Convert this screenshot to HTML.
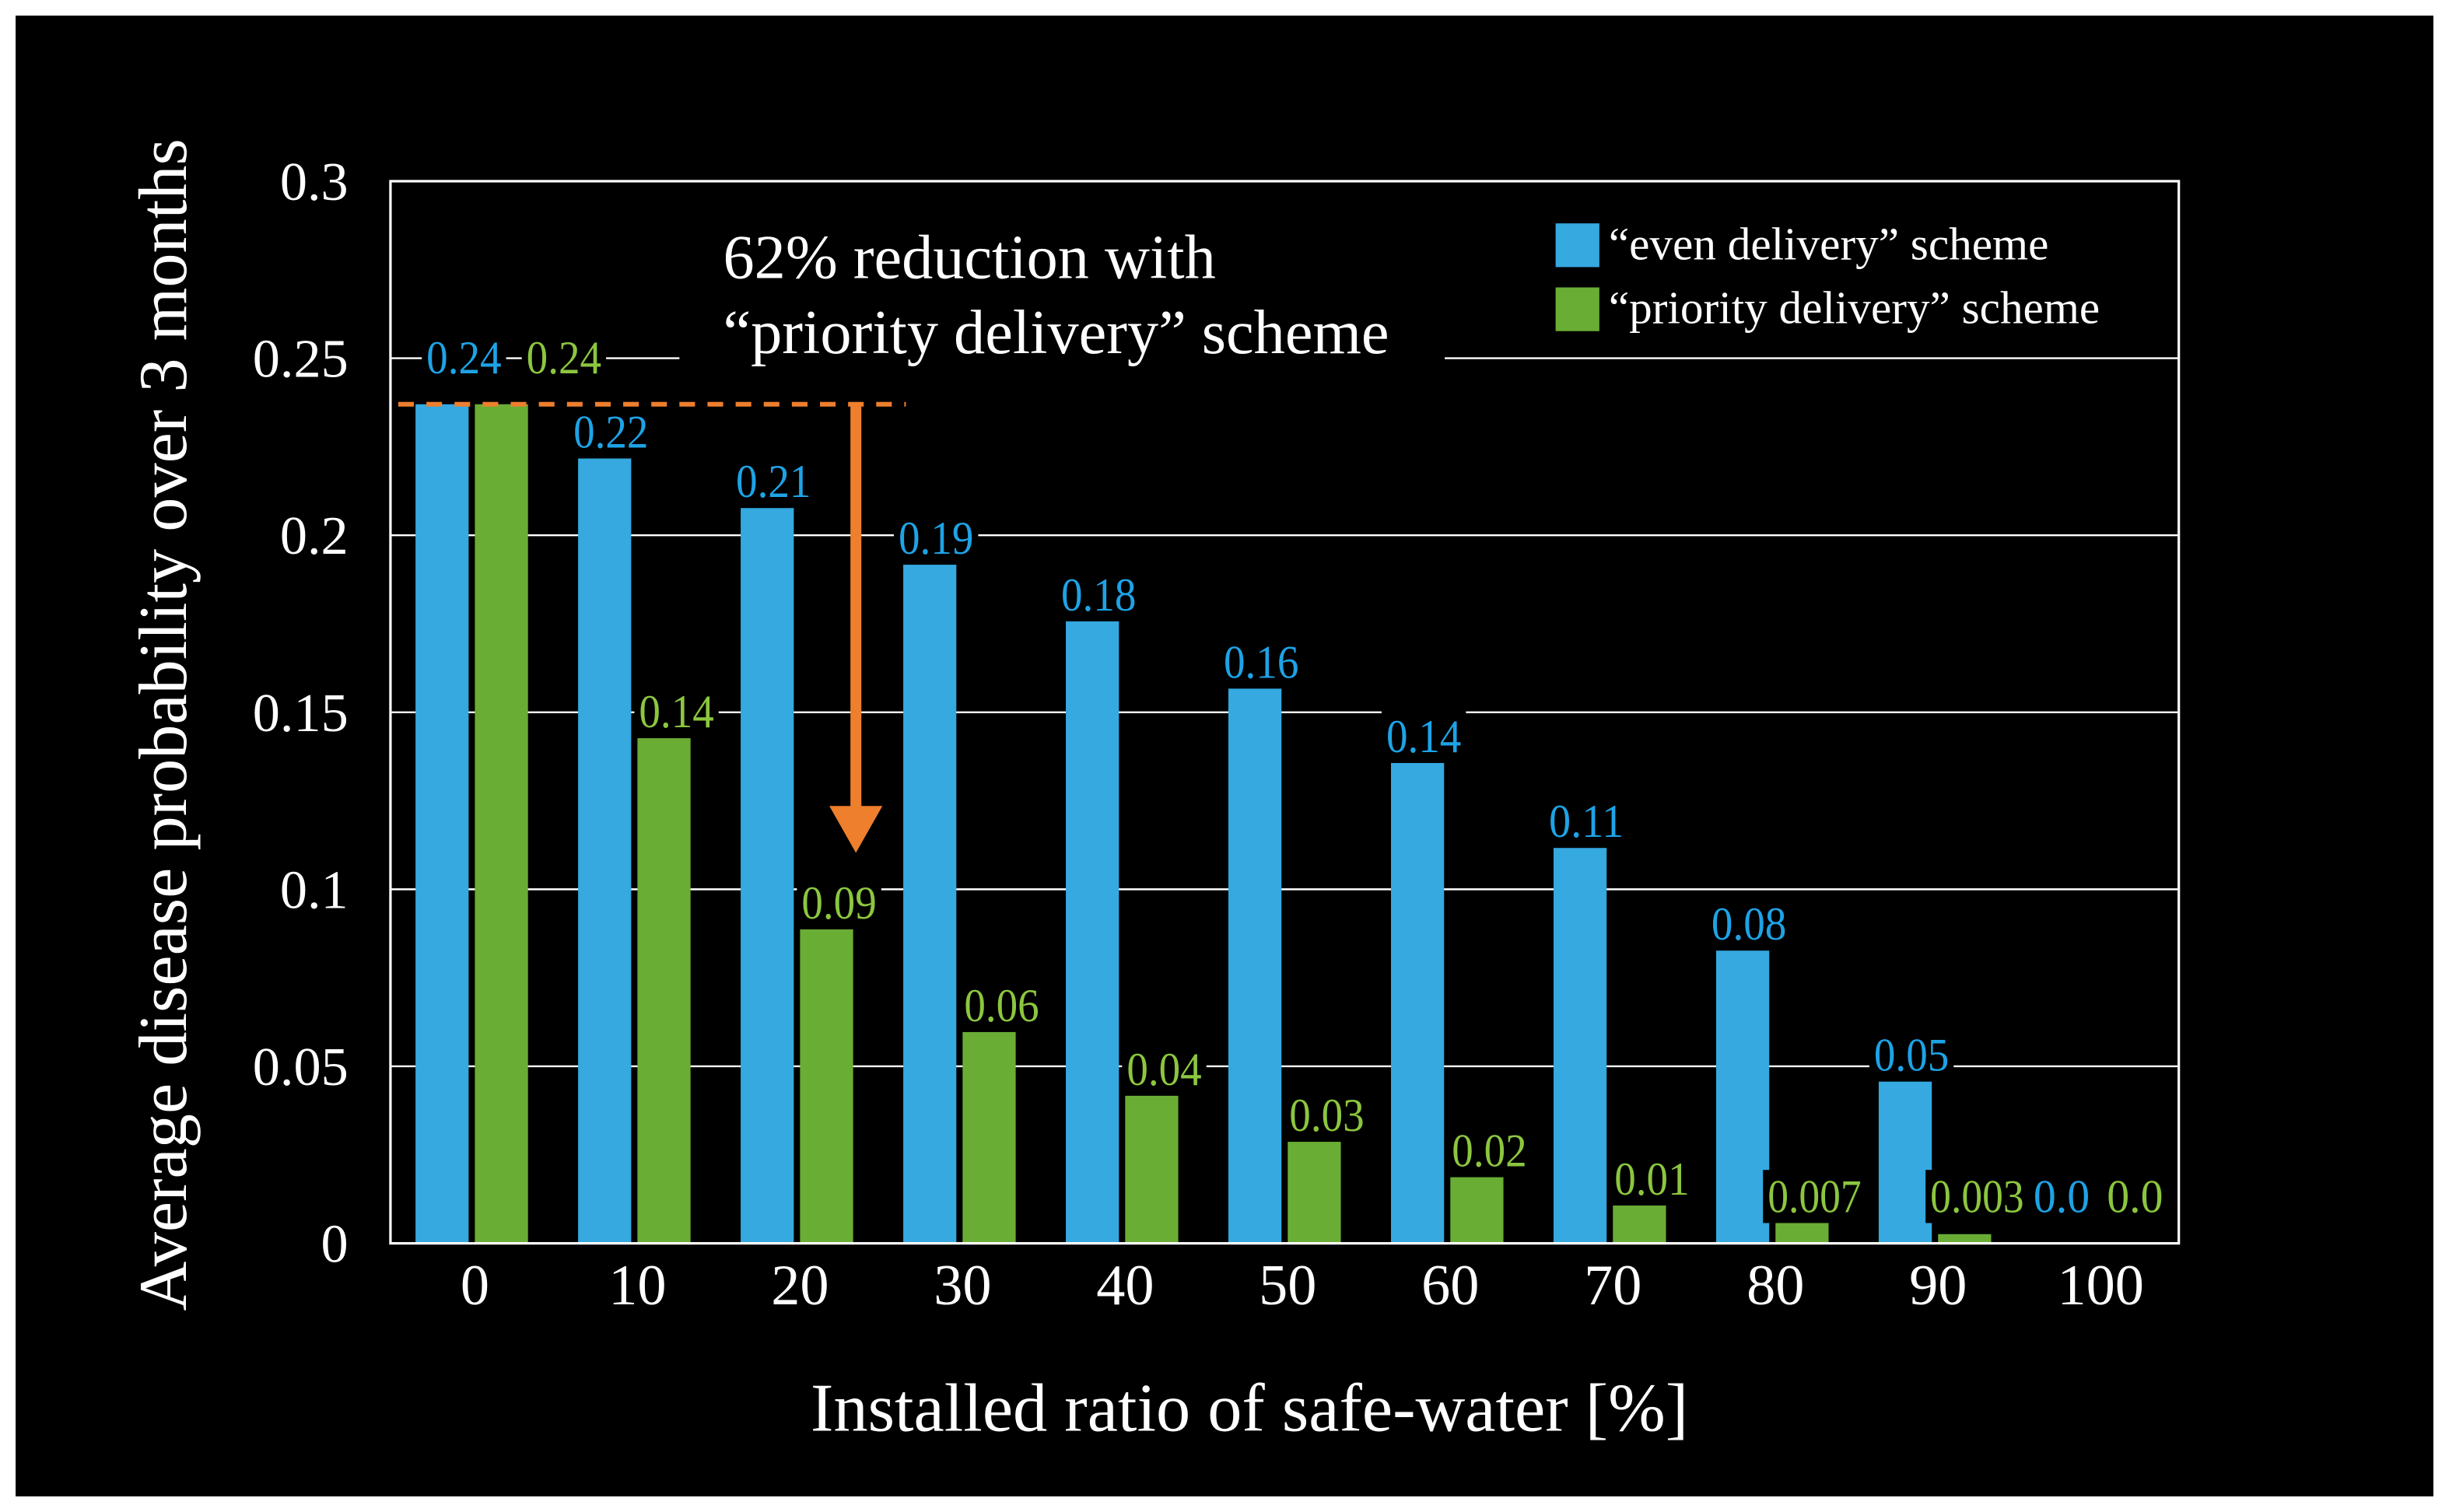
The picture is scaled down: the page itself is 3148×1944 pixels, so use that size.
<!DOCTYPE html>
<html><head><meta charset="utf-8">
<style>
html,body{margin:0;padding:0;background:#fff;}
svg{display:block;}
text{font-family:"Liberation Serif",serif;}
</style></head>
<body>
<svg id="chart" width="3148" height="1944" viewBox="0 0 1568 968" preserveAspectRatio="none" xmlns="http://www.w3.org/2000/svg">
<rect x="0" y="0" width="1568" height="968" fill="#fff"/>
<rect x="10" y="10" width="1548" height="948" fill="#000"/>
<g id="grid"></g>
<g id="bars"></g>
<g id="labelbgs"></g>
<g id="labels"></g>
<g id="axes"></g>
</svg>
<script>
const categories = ["0","10","20","30","40","50","60","70","80","90","100"];
const evenValues = [0.237,0.223,0.209,0.193,0.177,0.158,0.137,0.113,0.084,0.047,0];
const priorityValues = [0.237,0.144,0.090,0.061,0.043,0.030,0.020,0.012,0.0068,0.0026,0];
const evenLabels = ["0.24","0.22","0.21","0.19","0.18","0.16","0.14","0.11","0.08","0.05","0.0"];
const priorityLabels = ["0.24","0.14","0.09","0.06","0.04","0.03","0.02","0.01","0.007","0.003","0.0"];
const yTicks = [0,0.05,0.1,0.15,0.2,0.25,0.3];
const yTickLabels = ["0","0.05","0.1","0.15","0.2","0.25","0.3"];

const NS="http://www.w3.org/2000/svg";
const L=250,R=1395,T=116,B=796,YMAX=0.3;
const y=v=>B-(v/YMAX)*(B-T);
const band=(R-L)/categories.length;
const xc=i=>L+band*(i+0.5);
const BW=34,GAP=4;
function mk(tag,attrs,parent,txt){const e=document.createElementNS(NS,tag);for(const k in attrs)e.setAttribute(k,attrs[k]);if(txt!==undefined)e.textContent=txt;parent.appendChild(e);return e;}
const grid=document.getElementById('grid'),bars=document.getElementById('bars'),labels=document.getElementById('labels'),labelbgs=document.getElementById('labelbgs'),axes=document.getElementById('axes');

yTicks.forEach((t,i)=>{
  if(t>0&&t<YMAX){const g=mk('line',{x1:L,x2:R,y1:y(t),y2:y(t),stroke:'#fff','stroke-width':1.2},grid);
  
  }
  const tl=mk('text',{x:223,y:y(t)+12,'text-anchor':'end','font-size':35,fill:'#fff'},axes,yTickLabels[i]);
  
  
});

const last=categories.length-1;
categories.forEach((c,i)=>{
  const bx=xc(i)-GAP/2-BW, gx=xc(i)+GAP/2;
  const b=mk('rect',{x:bx,y:y(evenValues[i]),width:BW,height:B-y(evenValues[i]),fill:'#35a9e0'},bars);
  
  
  const g=mk('rect',{x:gx,y:y(priorityValues[i]),width:BW,height:B-y(priorityValues[i]),fill:'#6aad35'},bars);
  
  
  const xl=mk('text',{x:xc(i)+2,y:835,'text-anchor':'middle','font-size':37,fill:'#fff'},axes,c);
  
  
  let ex=bx+BW/2+4, gxl=gx+BW/2+8;
  if(i===0){ex=xc(i)-5;gxl=xc(i)+59;}
  if(i===last){ex=xc(i)-23;gxl=xc(i)+24;}
  [[evenLabels[i],ex,y(evenValues[i]),'#1ea3e6','even'],[priorityLabels[i],gxl,y(priorityValues[i]),'#8cc63f','priority']].forEach(d=>{
    let cy=Math.min(d[2]-14,766);
    if(i===0)cy=229;
    const tw=d[0].length*12;
    const w=tw+6;
    const bg=mk('rect',{x:d[1]-w/2,y:cy-17,width:w,height:34,fill:'#000'},labelbgs);
    
    
    const t=mk('text',{x:d[1],y:cy+10,'text-anchor':'middle','font-size':30,fill:d[3],textLength:tw,lengthAdjust:'spacingAndGlyphs'},labels,d[0]);
    
    
  });
});

const fr=mk('rect',{x:L,y:T,width:R-L,height:B-T,fill:'none',stroke:'#fff','stroke-width':1.6},axes);



const ab=mk('rect',{x:435,y:140,width:490,height:100,fill:'#000'},labelbgs);


const a1=mk('text',{x:463,y:178,'font-size':40,fill:'#fff'},labels,'62% reduction with');


const a2=mk('text',{x:463,y:226,'font-size':40,fill:'#fff'},labels,'\u201cpriority delivery\u201d scheme');


const dl=mk('line',{x1:255,x2:580,y1:y(evenValues[0]),y2:y(evenValues[0]),stroke:'#ee7f2d','stroke-width':3,'stroke-dasharray':'10,8'},labels);


const ar=mk('line',{x1:548,x2:548,y1:y(evenValues[0]),y2:522,stroke:'#ee7f2d','stroke-width':7},labels);


const ah=mk('polygon',{points:'531,516 565,516 548,546',fill:'#ee7f2d'},labels);



const lg=mk('g',{},labels);


const s1=mk('rect',{x:996,y:143,width:28,height:28,fill:'#35a9e0'},lg);


const t1=mk('text',{x:1030,y:166,'font-size':29.5,fill:'#fff'},lg,'\u201ceven delivery\u201d scheme');


const s2=mk('rect',{x:996,y:184,width:28,height:28,fill:'#6aad35'},lg);


const t2=mk('text',{x:1030,y:207,'font-size':29.5,fill:'#fff'},lg,'\u201cpriority delivery\u201d scheme');



const xt=mk('text',{x:800,y:916,'text-anchor':'middle','font-size':44,fill:'#fff'},axes,'Installed ratio of safe-water [%]');


const yt=mk('text',{x:0,y:0,'text-anchor':'middle','font-size':44,fill:'#fff',transform:'translate(119,464) rotate(-90)'},axes,'Average disease probability over 3 months');


</script>
</body></html>
